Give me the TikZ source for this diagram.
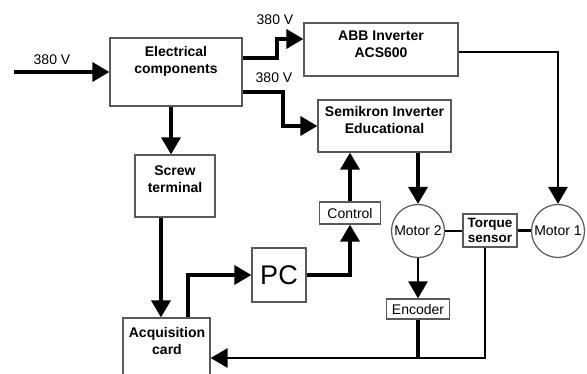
\documentclass[tikz,border=0pt]{standalone}
\usepackage{fontspec}
\setmainfont{Liberation Sans}
\usetikzlibrary{arrows.meta}

\begin{document}
\begin{tikzpicture}[x=1pt,y=-1pt,
  box/.style={draw=black!65,line width=1.2pt,inner sep=0pt},
  boxtext/.style={font=\fontsize{14}{17}\selectfont\bfseries,align=center,inner sep=0pt},
  plaintext/.style={font=\fontsize{14}{16}\selectfont,inner sep=0pt},
  fatarrow/.style={line width=3.5pt,-{Triangle[width=19pt,length=17pt]}},
  thinline/.style={line width=2.8pt}]
\useasboundingbox (0,0) rectangle (587,374);
\clip (0,0) rectangle (587,374);

% boxes
\node[box,minimum width=132,minimum height=68] (elec) at (176,72) {};
\node[box,minimum width=154,minimum height=53] (abb) at (381,49.5) {};
\node[box,minimum width=133,minimum height=52] (semikron) at (384.5,126) {};
\node[box,minimum width=80,minimum height=62] (screw) at (175,186) {};
\node[box,minimum width=87,minimum height=70] (acq) at (166.5,353) {};
\node[box,minimum width=54,minimum height=54,font=\fontsize{27}{29}\selectfont] (pc) at (279,275) {PC};
\node[box,minimum width=61,minimum height=22,font=\fontsize{14}{16}\selectfont] (ctrl) at (350,213) {Control};
\node[box,circle,minimum size=53] (motor2) at (418,231) {};
\node[box,circle,minimum size=53] (motor1) at (558,231) {};
\node[box,minimum width=54,minimum height=33,font=\fontsize{13.5}{15}\selectfont\bfseries,align=center] (torque) at (490,230.5) {Torque\\sensor};
\node[box,minimum width=63,minimum height=20,font=\fontsize{14}{16}\selectfont] (enc) at (418,309) {Encoder};

% box texts
\node[boxtext] (elecT) at (176,61) {Electrical\\components};
\node[boxtext] (abbT) at (381,44) {ABB Inverter\\ACS600};
\node[boxtext] (semikronT) at (384.5,120) {Semikron Inverter\\Educational};
\node[boxtext] (screwT) at (175,179) {Screw\\terminal};
\node[boxtext] (acqT) at (167,341) {Acquisition\\card};
\node[plaintext] (motor2T) at (motor2) {Motor 2};
\node[plaintext] (motor1T) at (motor1) {Motor 1};

% voltages
\node[plaintext] (vin) at (52,60) {380 V};
\node[plaintext] (vabb) at (275,20) {380 V};
\node[plaintext] (vsemi) at (274,78) {380 V};

\coordinate (mains) at (14,72);

% power side
\draw[fatarrow] (mains) -- (elec.west);
\draw[fatarrow] (elec.east |- 0,58) -| (277,39) -- (abb.west |- 0,39);
\draw[fatarrow] (elec.east |- 0,92) -| (283,126) -- (semikron.west);
\draw[fatarrow] (171,0 |- elec.south) -- (171,0 |- screw.north);
\draw[fatarrow] (161,0 |- screw.south) -- (161,0 |- acq.north);
\draw[thinline,-{Triangle[width=19pt,length=17pt]}] (abb.east |- 0,52) -| (motor1.north);
\draw[fatarrow] (semikron.south -| motor2.north) -- (motor2.north);

% control side
\draw[fatarrow] (188,0 |- acq.north) |- (pc.west);
\draw[fatarrow] (pc.east) -| (ctrl.south);
\draw[fatarrow] (ctrl.north) -- (ctrl.north |- semikron.south);

% mechanics
\draw[thinline] (motor2.east) -- (motor2.east -| torque.west);
\draw[line width=3.5pt] (torque.east) -- (torque.east -| motor1.west);
\draw[line width=2.8pt,-{Triangle[width=19pt,length=17pt]}] (motor2.south) -- (enc.north);

% measurements
\draw[line width=4pt] (enc.south) -- (enc.south |- 0,358);
\draw[thinline,-{Triangle[width=19pt,length=17pt]}] (485,0 |- torque.south) |- (acq.east |- 0,358);

\end{tikzpicture}
\end{document}
